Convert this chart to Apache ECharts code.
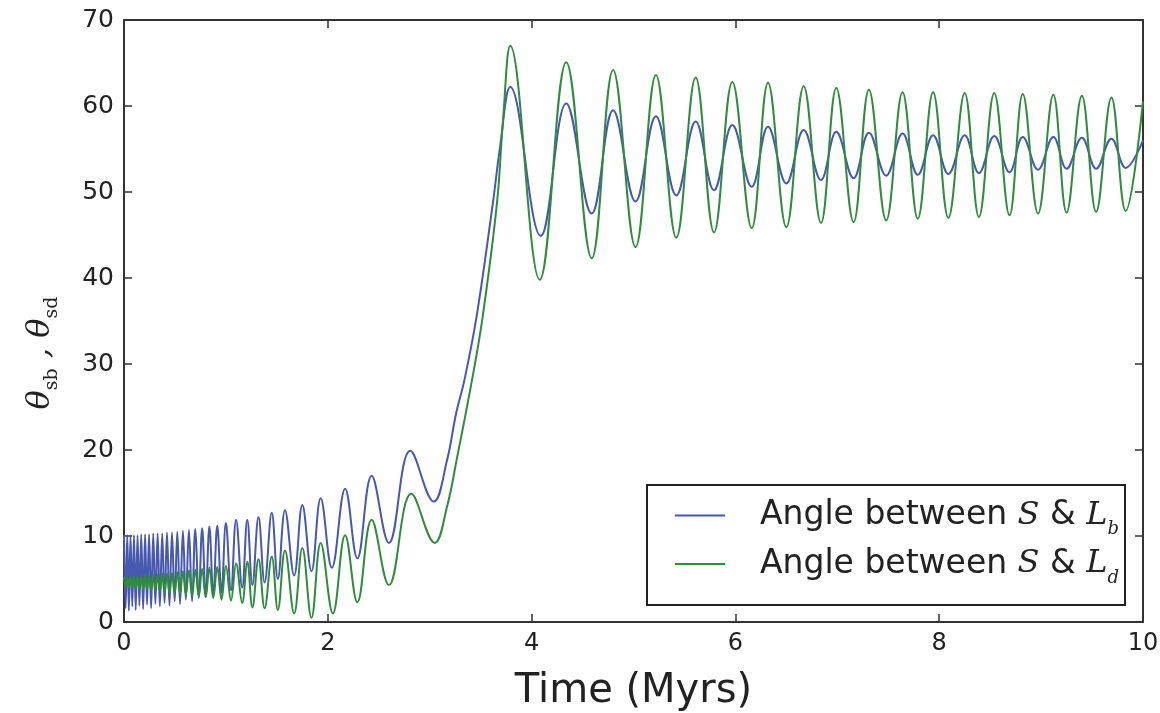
<!DOCTYPE html>
<html>
<head>
<meta charset="utf-8">
<script src="https://cdn.jsdelivr.net/npm/echarts@6/dist/echarts.min.js"></script>
<style>
  html, body { margin: 0; padding: 0; background: #fff; }
  #chart { width: 1160px; height: 713px; }
</style>
</head>
<body>
<div id="chart"></div>
<script>
// peaks / troughs (time in Myrs, angle in degrees)
var blueTime = [0.000, 0.016, 0.032, 0.048, 0.064, 0.081, 0.098, 0.115, 0.133, 0.151,
  0.169, 0.188, 0.207, 0.226, 0.246, 0.266, 0.287, 0.308, 0.330, 0.352,
  0.375, 0.398, 0.422, 0.446, 0.471, 0.497, 0.523, 0.550, 0.578, 0.607,
  0.637, 0.668, 0.700, 0.733, 0.767, 0.802, 0.838, 0.876, 0.915, 0.957,
  1.00, 1.05, 1.10, 1.16, 1.21, 1.26,
  1.32, 1.38, 1.45, 1.51, 1.58, 1.67, 1.75, 1.84, 1.93, 2.04,
  2.17, 2.29, 2.43, 2.60, 2.81, 3.04, 3.17, 3.26, 3.34, 3.46,
  3.62, 3.69, 3.79, 4.09, 4.34, 4.59, 4.80, 5.02, 5.22, 5.42,
  5.61, 5.79, 5.97, 6.16, 6.32, 6.50, 6.67, 6.84, 6.99, 7.16,
  7.31, 7.48, 7.64, 7.79, 7.94, 8.09, 8.25, 8.39, 8.54, 8.69,
  8.82, 8.97, 9.12, 9.25, 9.40, 9.54, 9.69, 9.83, 10.0];
var blueAngle = [10.1, 1.6, 10.1, 1.3, 10.1, 1.8, 10.1, 1.4, 10.1, 1.9,
  10.2, 1.5, 10.2, 2.0, 10.2, 1.6, 10.3, 2.1, 10.3, 1.8,
  10.3, 2.2, 10.4, 1.9, 10.4, 2.4, 10.5, 2.1, 10.6, 2.6,
  10.7, 2.4, 10.8, 2.8, 10.9, 2.9, 11.1, 3.1, 11.2, 3.4,
  11.5, 3.7, 11.9, 4.0, 11.9, 4.3,
  12.2, 4.6, 12.7, 5.0, 13.0, 5.4, 13.6, 5.9, 14.4, 6.3,
  15.5, 7.4, 17.0, 9.2, 19.9, 14.0, 18.8, 24.3, 28.1, 35.5,
  48.7, 55.2, 62.2, 44.9, 60.3, 47.5, 59.5, 48.9, 58.8, 49.6,
  58.2, 50.2, 57.8, 50.6, 57.6, 51.0, 57.2, 51.4, 57.0, 51.6,
  56.9, 51.9, 56.8, 52.0, 56.6, 52.1, 56.6, 52.2, 56.5, 52.3,
  56.4, 52.6, 56.4, 52.7, 56.3, 52.7, 56.2, 52.8, 56.0];

var greenTime = [0.000, 0.016, 0.032, 0.048, 0.064, 0.081, 0.098, 0.115, 0.133, 0.151,
  0.169, 0.188, 0.207, 0.226, 0.246, 0.266, 0.287, 0.308, 0.330, 0.352,
  0.375, 0.398, 0.422, 0.446, 0.471, 0.497, 0.523, 0.550, 0.578, 0.607,
  0.637, 0.668, 0.700, 0.733, 0.767, 0.802, 0.838, 0.876, 0.915, 0.957,
  1.00, 1.05, 1.10, 1.16, 1.21, 1.26,
  1.32, 1.38, 1.45, 1.51, 1.58, 1.67, 1.75, 1.84, 1.93, 2.05,
  2.17, 2.29, 2.43, 2.60, 2.82, 3.05, 3.17, 3.27, 3.41, 3.52,
  3.66, 3.72, 3.79, 4.08, 4.34, 4.59, 4.80, 5.02, 5.22, 5.42,
  5.61, 5.79, 5.97, 6.16, 6.32, 6.50, 6.67, 6.84, 6.99, 7.16,
  7.31, 7.48, 7.64, 7.79, 7.94, 8.09, 8.25, 8.39, 8.54, 8.69,
  8.82, 8.97, 9.12, 9.25, 9.40, 9.54, 9.69, 9.83, 10.0];
var greenAngle = [5.2, 4.1, 5.2, 4.0, 5.2, 4.0, 5.3, 3.9, 5.3, 3.9,
  5.3, 3.8, 5.4, 3.8, 5.4, 3.7, 5.5, 3.7, 5.5, 3.6,
  5.6, 3.5, 5.6, 3.4, 5.7, 3.4, 5.8, 3.3, 5.9, 3.2,
  6.0, 3.1, 6.1, 3.0, 6.2, 2.9, 6.3, 2.8, 6.4, 2.6,
  6.5, 2.5, 6.8, 2.2, 7.0, 1.7,
  7.3, 1.6, 7.6, 1.4, 8.3, 1.0, 8.6, 0.5, 9.2, 1.0,
  10.1, 2.3, 11.9, 4.3, 14.9, 9.2, 13.4, 19.2, 27.8, 35.5,
  48.7, 58.4, 67.0, 39.8, 65.1, 42.3, 64.2, 43.6, 63.6, 44.7,
  63.3, 45.3, 62.8, 45.8, 62.7, 45.9, 62.3, 46.4, 62.1, 46.5,
  61.9, 46.7, 61.6, 46.9, 61.6, 47.0, 61.5, 47.1, 61.5, 47.3,
  61.4, 47.5, 61.3, 47.6, 61.2, 47.7, 61.0, 47.8, 60.5];

var xTicks = [0, 2, 4, 6, 8, 10];
var yTicks = [0, 10, 20, 30, 40, 50, 60, 70];

function pairs(t, v) {
  var out = [];
  for (var i = 0; i < t.length; i++) out.push([t[i], v[i]]);
  return out;
}

var chart = echarts.init(document.getElementById('chart'), null, { renderer: 'canvas' });

var tickStyle = { inside: true, length: 8, lineStyle: { color: '#333', width: 1.5 } };
var frame = { show: true, onZero: false, lineStyle: { color: '#333', width: 2 } };

var option = {
  backgroundColor: '#fff',
  animation: false,
  grid: { left: 124, right: 17, top: 20, bottom: 91, show: false, outerBoundsMode: 'none', containLabel: false },
  legend: {
    orient: 'vertical',
    right: 35,
    bottom: 108,
    backgroundColor: '#fff',
    borderColor: '#222',
    borderWidth: 2,
    borderRadius: 0,
    padding: [14, 6, 18, 28],
    itemGap: 9,
    itemWidth: 50,
    itemHeight: 2,
    icon: 'rect',
    data: ['b', 'd'],
    formatter: function (name) {
      return '{n|Angle between }{it|S}{n| & }{it|L}{sub|' + name + '}';
    },
    textStyle: {
      padding: [0, 0, 0, 30],
      rich: {
        n: { fontFamily: 'DejaVu Sans', fontSize: 33, color: '#222', lineHeight: 46 },
        it: { fontFamily: 'DejaVu Serif', fontStyle: 'italic', fontSize: 32, color: '#222', lineHeight: 46 },
        sub: { fontFamily: 'DejaVu Serif', fontStyle: 'italic', fontSize: 18, color: '#222', verticalAlign: 'bottom', lineHeight: 46 }
      }
    }
  },
  xAxis: [{
    type: 'value',
    min: 0, max: 10, interval: 2,
    position: 'bottom',
    name: 'Time (Myrs)',
    nameLocation: 'middle',
    nameGap: 50,
    nameTextStyle: { fontFamily: 'DejaVu Sans', fontSize: 40, color: '#222' },
    axisLine: frame,
    axisTick: tickStyle,
    splitLine: { show: false },
    axisLabel: { fontFamily: 'DejaVu Sans', fontSize: 24, color: '#222', margin: 10 }
  }, {
    type: 'value',
    min: 0, max: 10, interval: 2,
    position: 'top',
    axisLine: frame,
    axisTick: tickStyle,
    splitLine: { show: false },
    axisLabel: { show: false }
  }],
  yAxis: [{
    type: 'value',
    min: 0, max: 70, interval: 10,
    position: 'left',
    name: '{th|θ}{sub|sb}{th| , }{th|θ}{sub|sd}',
    nameLocation: 'middle',
    nameRotate: 90,
    nameGap: 62,
    nameTextStyle: {
      padding: [0, 64, 0, 0],
      rich: {
        th: { fontFamily: 'DejaVu Serif', fontStyle: 'italic', fontSize: 32, color: '#222', lineHeight: 42 },
        sub: { fontFamily: 'DejaVu Serif', fontSize: 19, color: '#222', verticalAlign: 'bottom', lineHeight: 42 }
      }
    },
    axisLine: frame,
    axisTick: tickStyle,
    splitLine: { show: false },
    axisLabel: { fontFamily: 'DejaVu Sans', fontSize: 25, color: '#222', margin: 10 }
  }, {
    type: 'value',
    min: 0, max: 70, interval: 10,
    position: 'right',
    axisLine: frame,
    axisTick: tickStyle,
    splitLine: { show: false },
    axisLabel: { show: false }
  }],
  series: [{
    name: 'b',
    type: 'line',
    xAxisIndex: 0,
    yAxisIndex: 0,
    data: pairs(blueTime, blueAngle),
    showSymbol: false,
    symbol: 'none',
    smooth: 0.4,
    itemStyle: { color: '#4758b0' },
    lineStyle: { color: '#4758b0', width: 2 },
    z: 3
  }, {
    name: 'd',
    type: 'line',
    xAxisIndex: 0,
    yAxisIndex: 0,
    data: pairs(greenTime, greenAngle),
    showSymbol: false,
    symbol: 'none',
    smooth: 0.4,
    itemStyle: { color: '#2f8c3c' },
    lineStyle: { color: '#2f8c3c', width: 2 },
    z: 4
  }]
};

chart.setOption(option);
</script>
</body>
</html>
